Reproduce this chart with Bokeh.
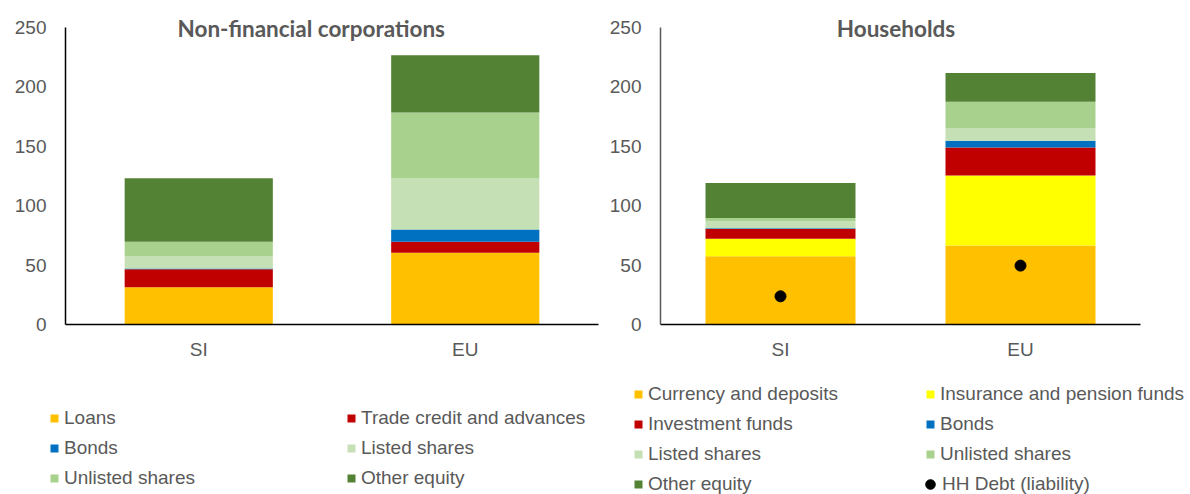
from bokeh.plotting import figure
from bokeh.models import (FactorRange, Range1d, FixedTicker, Legend, LegendItem,
                          Label, ColumnDataSource)
from bokeh.layouts import row, column
from bokeh.embed import file_html
from bokeh.resources import INLINE

# ---------------- data ----------------
regions = ["SI", "EU"]
y_ticks = [0, 50, 100, 150, 200, 250]

# Non-financial corporations
nfc_labels = ["Loans", "Trade credit and advances", "Bonds",
              "Listed shares", "Unlisted shares", "Other equity"]
nfc_loans = [31.4, 60.3]
nfc_trade_credit = [15.1, 9.2]
nfc_bonds = [0.5, 10.4]
nfc_listed = [10.2, 42.9]
nfc_unlisted = [12.3, 55.5]
nfc_other_equity = [53.5, 48.1]

# Households
hh_labels = ["Currency and deposits", "Insurance and pension funds",
             "Investment funds", "Bonds", "Listed shares",
             "Unlisted shares", "Other equity"]
hh_currency = [57.3, 66.5]
hh_insurance = [14.8, 58.8]
hh_investment = [8.2, 23.4]
hh_bonds = [0.6, 5.7]
hh_listed = [5.8, 10.9]
hh_unlisted = [2.8, 22.0]
hh_other_equity = [29.4, 24.1]
hh_debt = [23.7, 49.5]
hh_debt_label = "HH Debt (liability)"

# ---------------- styles ----------------
C_YELLOW_ORANGE = "#FFC000"
C_YELLOW = "#FFFF00"
C_RED = "#C00000"
C_BLUE = "#0070C0"
C_LIGHT_GREEN = "#C5E0B4"
C_MID_GREEN = "#A9D18E"
C_DARK_GREEN = "#548235"
TXT = "#595959"
FONT = "Liberation Sans"
LEG_FS = "19px"
NAN = float("nan")


def chart_fig(frame_width, mbl, mbr):
    p = figure(x_range=FactorRange(factors=regions, range_padding=0),
               y_range=Range1d(0, 262.3),
               frame_width=frame_width, frame_height=312,
               min_border_left=mbl, min_border_right=mbr,
               min_border_top=12, min_border_bottom=42,
               output_backend="svg", toolbar_location=None)
    p.outline_line_color = None
    p.xgrid.visible = False
    p.ygrid.visible = False
    p.yaxis.ticker = FixedTicker(ticks=y_ticks)
    p.yaxis.bounds = (0, 250)
    for ax in (p.xaxis[0], p.yaxis[0]):
        ax.major_tick_line_color = None
        ax.minor_tick_line_color = None
        ax.major_tick_out = 0
        ax.major_tick_in = 0
        ax.minor_tick_out = 0
        ax.major_label_text_font = FONT
        ax.major_label_text_font_size = "19px"
        ax.major_label_text_color = TXT
        ax.axis_line_color = "#000000"
        ax.axis_line_width = 1.5
    p.yaxis.major_label_standoff = 19
    p.xaxis.major_label_standoff = 14
    return p


def legend_fig(width):
    f = figure(width=width, height=128, x_range=Range1d(0, 1), y_range=Range1d(0, 1),
               min_border=0, output_backend="svg", toolbar_location=None)
    f.axis.visible = False
    f.grid.visible = False
    f.outline_line_color = None
    return f


def make_legend(items, vx, vy, gw=10, gh=10, standoff=5):
    return Legend(items=items, location=(vx, vy), orientation="vertical",
                  glyph_width=gw, glyph_height=gh, label_standoff=standoff,
                  label_height=30, label_width=10, spacing=0, padding=0, margin=0,
                  border_line_color=None, background_fill_alpha=0,
                  label_text_font=FONT, label_text_font_size=LEG_FS,
                  label_text_color=TXT)


def add_title(p, text, x):
    p.add_layout(Label(x=x, y=248.6, text=text, text_align="center",
                       text_baseline="middle", text_font="Lato",
                       text_font_style="bold", text_font_size="22.5px",
                       text_color=TXT))


def legend_items(f, labels, colors):
    # legend proxies (no visible mark) for the swatches below the chart
    items = []
    for lab, col in zip(labels, colors):
        r = f.vbar(x=[NAN], top=[NAN], width=0.5, color=col, line_color=None)
        items.append(LegendItem(label=lab, renderers=[r]))
    return items


# ---------------- left: NFC ----------------
nfc_keys = ["loans", "trade", "bonds", "listed", "unlisted", "other"]
src1 = ColumnDataSource(dict(region=regions, loans=nfc_loans, trade=nfc_trade_credit,
                             bonds=nfc_bonds, listed=nfc_listed,
                             unlisted=nfc_unlisted, other=nfc_other_equity))
nfc_colors = [C_YELLOW_ORANGE, C_RED, C_BLUE, C_LIGHT_GREEN, C_MID_GREEN, C_DARK_GREEN]

p1 = chart_fig(533, 65, 5)
p1.vbar_stack(nfc_keys, x="region", width=0.556, color=nfc_colors,
              line_color=None, source=src1)
add_title(p1, "Non-financial corporations", 0.922)

l1 = legend_fig(603)
it1 = legend_items(l1, nfc_labels, nfc_colors)
l1.add_layout(make_legend([it1[0], it1[2], it1[4]], 49, 1))
l1.add_layout(make_legend([it1[1], it1[3], it1[5]], 346, 1))

# ---------------- right: Households ----------------
hh_keys = ["currency", "insurance", "investment", "bonds", "listed", "unlisted", "other"]
src2 = ColumnDataSource(dict(region=regions, currency=hh_currency, insurance=hh_insurance,
                             investment=hh_investment, bonds=hh_bonds, listed=hh_listed,
                             unlisted=hh_unlisted, other=hh_other_equity, debt=hh_debt))
hh_colors = [C_YELLOW_ORANGE, C_YELLOW, C_RED, C_BLUE, C_LIGHT_GREEN, C_MID_GREEN, C_DARK_GREEN]

p2 = chart_fig(480, 57, 50)
p2.yaxis.axis_line_color = "#595959"
p2.vbar_stack(hh_keys, x="region", width=0.625, color=hh_colors,
              line_color=None, source=src2)
p2.scatter(x="region", y="debt", size=11, color="black", source=src2)
add_title(p2, "Households", 0.981)

l2 = legend_fig(587)
it2 = legend_items(l2, hh_labels, hh_colors)
rdot = l2.scatter(x=[NAN], y=[NAN], size=11, color="black")
l2.add_layout(make_legend([it2[0], it2[2], it2[4], it2[6]], 30, -5))
l2.add_layout(make_legend([it2[1], it2[3], it2[5]], 322, 25))
l2.add_layout(make_legend([LegendItem(label=hh_debt_label, renderers=[rdot])],
                          315, -5, gw=24, gh=28, standoff=0))

layout = column(row(p1, p2), row(l1, l2))
open("out.html", "w").write(file_html(layout, INLINE))
